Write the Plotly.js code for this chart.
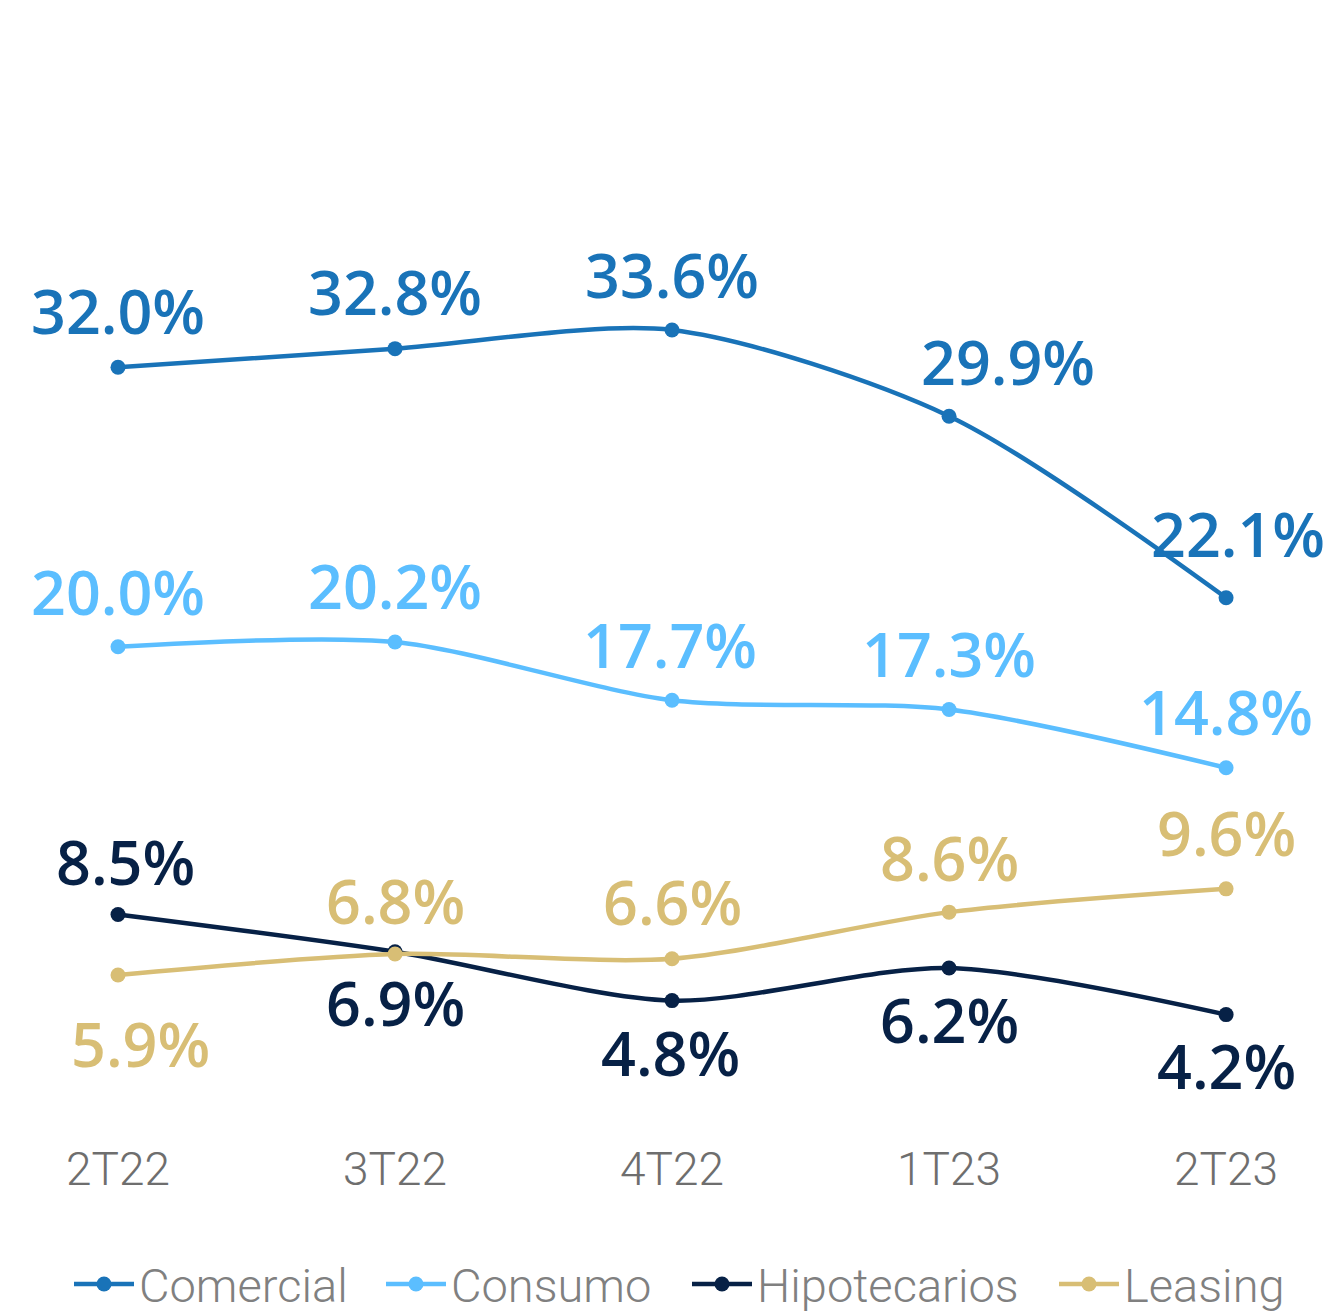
<!DOCTYPE html>
<html>
<head>
<meta charset="utf-8">
<script src="https://cdn.plot.ly/plotly-3.0.1.min.js"></script>
<style>html,body{margin:0;padding:0;background:#fff;}#chart{width:1328px;height:1316px;}</style>
</head>
<body>
<div id="chart"></div>
<script>
// Data
const quarters = ["2T22", "3T22", "4T22", "1T23", "2T23"];
const comercial = [32.0, 32.8, 33.6, 29.9, 22.1];
const consumo = [20.0, 20.2, 17.7, 17.3, 14.8];
const hipotecarios = [8.5, 6.9, 4.8, 6.2, 4.2];
const leasing = [5.9, 6.8, 6.6, 8.6, 9.6];

// Styles
const series = [
  {name: "Comercial", y: comercial, color: "#1973B8", legendX: 69,
   off: [[0,-57],[0,-57],[0,-56],[59,-55],[12,-64]]},
  {name: "Consumo", y: consumo, color: "#5BBEFF", legendX: 381,
   off: [[0,-55],[0,-57],[-2,-56],[0,-56],[0,-56]]},
  {name: "Hipotecarios", y: hipotecarios, color: "#072146", legendX: 687,
   off: [[7,-53],[0,51],[-2,52],[0,51],[0,51]]},
  {name: "Leasing", y: leasing, color: "#D8BE75", legendX: 1054,
   off: [[22,68],[0,-54],[0,-57],[0,-55],[0,-56]]}
];

const legendNames = ["legend", "legend2", "legend3", "legend4"];

const traces = series.map((s, k) => ({
  type: "scatter",
  mode: "lines+markers",
  name: s.name,
  legend: legendNames[k],
  x: quarters,
  y: s.y,
  line: {color: s.color, width: 4.5, shape: "spline", smoothing: 0.8},
  marker: {color: s.color, size: 15},
  cliponaxis: false,
  hoverinfo: "skip"
}));

const annotations = [];
series.forEach(s => {
  s.y.forEach((v, i) => {
    annotations.push({
      x: quarters[i], y: v, xref: "x", yref: "y",
      text: v.toFixed(1) + "%",
      showarrow: false,
      xanchor: "center", yanchor: "middle",
      xshift: s.off[i][0], yshift: -s.off[i][1],
      font: {family: "'Open Sans', Lato, sans-serif", size: 61, color: s.color, weight: 600}
    });
  });
});

const layout = {
  width: 1328, height: 1316,
  margin: {l: 0, r: 0, t: 181, b: 178},
  paper_bgcolor: "#fff", plot_bgcolor: "#fff",
  showlegend: true,
  xaxis: {
    type: "category",
    range: [-0.426, 4.368],
    showgrid: false, zeroline: false, showline: false,
    ticks: "",
    tickfont: {family: "Roboto, Lato, sans-serif", size: 46, color: "#6e6e6e", weight: 300},
    fixedrange: true
  },
  yaxis: {
    range: [-1.1, 40],
    showgrid: false, zeroline: false, showline: false,
    showticklabels: false, ticks: "",
    fixedrange: true
  },
  annotations: annotations
};

series.forEach((s, k) => {
  layout[legendNames[k]] = {
    orientation: "h",
    xref: "paper", x: s.legendX / 1328, xanchor: "left",
    yref: "container", y: 0.024, yanchor: "middle",
    font: {family: "Roboto, Lato, sans-serif", size: 47, color: "#808080", weight: 300},
    itemwidth: 60, bgcolor: "rgba(0,0,0,0)"
  };
});

Plotly.newPlot("chart", traces, layout, {displayModeBar: false, staticPlot: true});
</script>
</body>
</html>
